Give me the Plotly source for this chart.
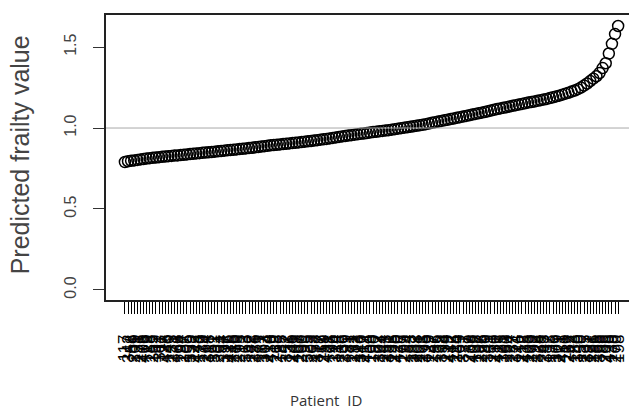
import plotly.graph_objects as go

# Predicted frailty values, sorted ascending (one per patient)
frailty = [
    0.790, 0.795, 0.798, 0.800, 0.803, 0.806, 0.809, 0.812,
    0.814, 0.816, 0.818, 0.820, 0.822, 0.824, 0.826, 0.828,
    0.830, 0.831, 0.833, 0.835, 0.837, 0.839, 0.841, 0.843,
    0.845, 0.847, 0.849, 0.850, 0.852, 0.854, 0.856, 0.858,
    0.860, 0.862, 0.864, 0.866, 0.868, 0.870, 0.872, 0.874,
    0.876, 0.878, 0.881, 0.883, 0.886, 0.888, 0.890, 0.893,
    0.895, 0.897, 0.899, 0.901, 0.903, 0.905, 0.907, 0.909,
    0.911, 0.913, 0.916, 0.918, 0.920, 0.923, 0.925, 0.928,
    0.930, 0.933, 0.936, 0.939, 0.942, 0.945, 0.948, 0.951,
    0.954, 0.956, 0.959, 0.961, 0.964, 0.966, 0.969, 0.972,
    0.975, 0.977, 0.980, 0.982, 0.985, 0.987, 0.990, 0.993,
    0.996, 0.999, 1.002, 1.005, 1.008, 1.011, 1.014, 1.017,
    1.020, 1.024, 1.028, 1.032, 1.036, 1.040, 1.044, 1.048,
    1.051, 1.055, 1.059, 1.063, 1.067, 1.071, 1.075, 1.079,
    1.083, 1.087, 1.091, 1.095, 1.099, 1.103, 1.108, 1.113,
    1.117, 1.121, 1.125, 1.129, 1.133, 1.137, 1.141, 1.145,
    1.149, 1.153, 1.157, 1.160, 1.164, 1.168, 1.172, 1.176,
    1.180, 1.185, 1.190, 1.195, 1.200, 1.206, 1.212, 1.218,
    1.225, 1.232, 1.240, 1.250, 1.262, 1.275, 1.290, 1.305,
    1.320, 1.340, 1.370, 1.400, 1.460, 1.520, 1.580, 1.630,
]

# Patient IDs in the same (sorted) order - x tick labels
patient_ids = [
    117, 342, 58, 209, 131, 276, 403, 19, 188, 255,
    162, 311, 97, 428, 140, 233, 371, 66, 194, 287,
    105, 359, 222, 448, 173, 39, 264, 318, 151, 392,
    201, 84, 337, 126, 415, 246, 179, 295, 12, 363,
    142, 228, 386, 71, 157, 303, 214, 439, 119, 268,
    185, 47, 352, 136, 241, 409, 167, 290, 93, 325,
    203, 158, 377, 112, 259, 431, 28, 196, 314, 148,
    236, 399, 81, 171, 282, 123, 346, 217, 454, 109,
    190, 62, 307, 144, 253, 381, 135, 226, 420, 177,
    299, 54, 163, 332, 208, 101, 273, 395, 129, 247,
    186, 35, 358, 154, 219, 442, 115, 284, 169, 321,
    77, 239, 406, 138, 197, 266, 89, 349, 181, 230,
    413, 125, 301, 160, 24, 257, 374, 146, 212, 435,
    103, 279, 192, 328, 68, 243, 387, 133, 175, 309,
    221, 451, 110, 262, 42, 183, 340, 150, 235, 397,
    121, 296, 165, 366, 86, 206, 425, 139, 270, 198,
]

y_ticks = [0.0, 0.5, 1.0, 1.5]
y_tick_labels = ["0.0", "0.5", "1.0", "1.5"]
reference_level = 1.0

n = len(frailty)
positions = list(range(1, n + 1))

fig = go.Figure()
fig.add_trace(go.Scatter(
    x=positions, y=frailty, mode="markers",
    marker=dict(symbol="circle-open", size=11, color="black",
                line=dict(width=1.5, color="black")),
    showlegend=False, hoverinfo="skip",
))

fig.add_shape(type="line", xref="paper", x0=0, x1=1, yref="y",
              y0=reference_level, y1=reference_level,
              line=dict(color="#a8a8a8", width=1))

fig.update_xaxes(
    range=[-5.1, n + 3.5],
    tickmode="array", tickvals=positions,
    ticktext=[str(v) for v in patient_ids],
    tickangle=-90, ticks="outside", ticklen=12, tickwidth=1, tickcolor="black",
    tickfont=dict(family="Liberation Sans, Arial, sans-serif", size=17, color="black"),
    ticklabelstandoff=14,
    showline=True, linecolor="#222", linewidth=1.5, mirror=True,
    showgrid=False, zeroline=False,
)
fig.update_yaxes(
    range=[-0.062, 1.698],
    tickmode="array", tickvals=y_ticks, ticktext=y_tick_labels,
    tickangle=-90, ticks="outside", ticklen=11, tickwidth=1, tickcolor="#333",
    tickfont=dict(family="Liberation Sans, Arial, sans-serif", size=16, color="#444"),
    ticklabelstandoff=11,
    showline=True, linecolor="#222", linewidth=1.5,
    showgrid=False, zeroline=False,
)

fig.add_annotation(
    text="Predicted frailty value", xref="paper", yref="paper",
    x=-0.165, y=0.51, xanchor="center", yanchor="middle", textangle=-90,
    showarrow=False,
    font=dict(family="Liberation Sans, Arial, sans-serif", size=25, color="#444"),
)
fig.add_annotation(
    text="Patient  ID", xref="paper", yref="paper",
    x=0.42, y=-0.351, xanchor="center", yanchor="middle",
    showarrow=False,
    font=dict(family="Open Sans, sans-serif", size=15, color="#333"),
)

fig.update_layout(
    width=629, height=412,
    margin=dict(l=106, r=0, t=15, b=112),
    paper_bgcolor="white", plot_bgcolor="white",
)

fig.write_html("out.html", config={"displayModeBar": False},
               post_script="document.body.style.margin='0';document.body.style.overflow='hidden';")
